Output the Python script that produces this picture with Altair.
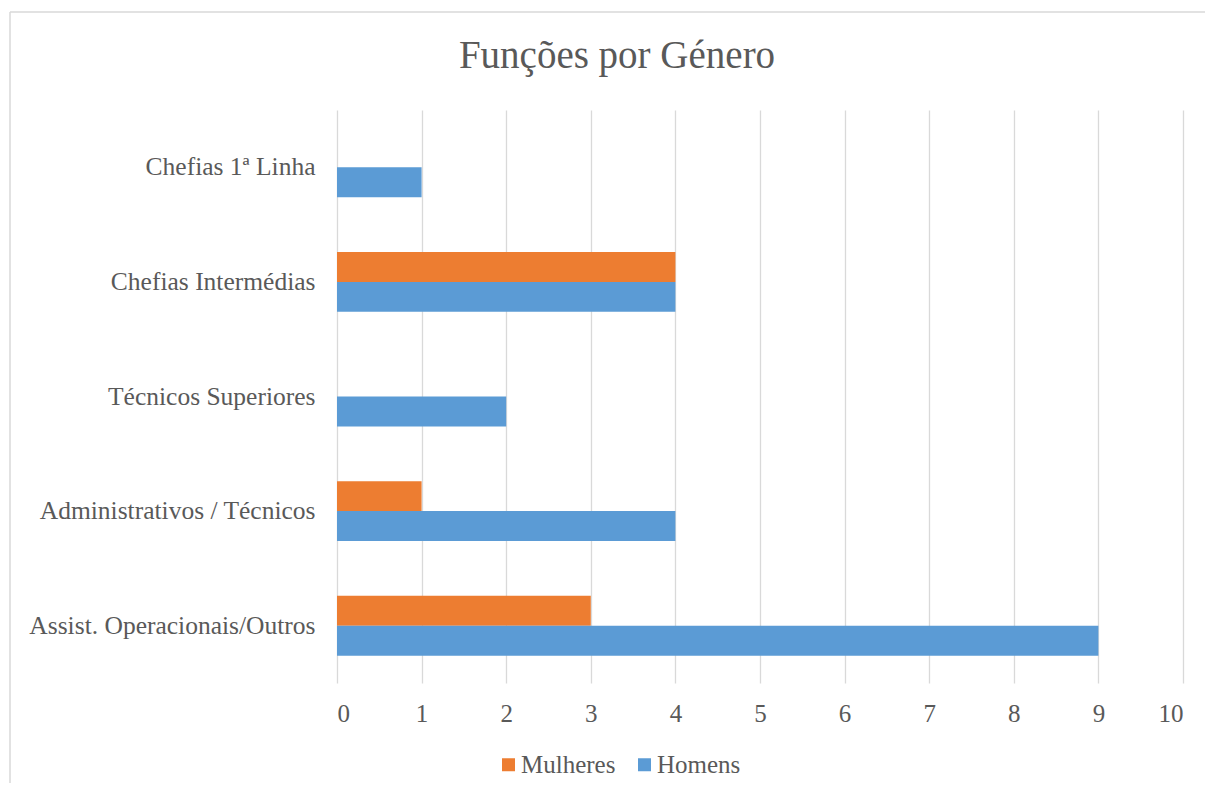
import altair as alt
import pandas as pd

categories = [
    "Chefias 1ª Linha",
    "Chefias Intermédias",
    "Técnicos Superiores",
    "Administrativos / Técnicos",
    "Assist. Operacionais/Outros",
]
series = ["Mulheres", "Homens"]
mulheres = [0, 4, 0, 1, 3]
homens = [1, 4, 2, 4, 9]
x_ticks = [0, 1, 2, 3, 4, 5, 6, 7, 8, 9, 10]
colors = ["#ED7D31", "#5B9BD5"]

rows = []
for c, m, h in zip(categories, mulheres, homens):
    rows.append({"Função": c, "Género": "Mulheres", "Valor": m})
    rows.append({"Função": c, "Género": "Homens", "Valor": h})
df = pd.DataFrame(rows)

FONT = "Liberation Serif"
TXT = "#595959"

bars = alt.Chart(df).mark_bar().encode(
    x=alt.X(
        "Valor:Q",
        scale=alt.Scale(domain=[0, 10], nice=False),
        axis=alt.Axis(
            values=x_ticks, title=None, ticks=False, domain=False,
            grid=True, gridColor="#d9d9d9", gridWidth=1.3,
            labelFont=FONT, labelFontSize=25, labelColor=TXT, labelPadding=18,
        ),
    ),
    y=alt.Y(
        "Função:N",
        sort=categories,
        scale=alt.Scale(paddingInner=0.477, paddingOuter=0.2385),
        axis=alt.Axis(
            title=None, ticks=False, domain=False, grid=False,
            labelFont=FONT, labelFontSize=25.5, labelColor=TXT, labelPadding=22,
            labelLimit=400,
        ),
    ),
    yOffset=alt.YOffset("Género:N", sort=series,
                        scale=alt.Scale(paddingInner=0, paddingOuter=0)),
    color=alt.Color(
        "Género:N",
        sort=series,
        scale=alt.Scale(domain=series, range=colors),
        legend=alt.Legend(
            title=None, orient="none", direction="horizontal",
            legendX=159, legendY=642,
            symbolType="square", symbolSize=169, symbolStrokeWidth=0,
            labelFont=FONT, labelFontSize=25, labelColor=TXT,
            labelOffset=0, columnPadding=16,
        ),
    ),
)

one = pd.DataFrame({"a": [0]})
top_line = alt.Chart(one).mark_rule(color="#d9d9d9", strokeWidth=1.5).encode(
    x=alt.value(-327), x2=alt.value(868), y=alt.value(-98)
)
left_line = alt.Chart(one).mark_rule(color="#d9d9d9", strokeWidth=1.5).encode(
    x=alt.value(-327), y=alt.value(-98), y2=alt.value(673)
)

chart = alt.layer(top_line, left_line, bars).properties(
    width=846,
    height=573,
    autosize=alt.AutoSizeParams(type="none"),
    padding={"left": 329, "top": 102, "right": 22, "bottom": 100},
    title=alt.TitleParams(
        "Funções por Género",
        font=FONT, fontSize=39, fontWeight="normal", color=TXT,
        anchor="middle", dx=-143, offset=-65,
    ),
).configure_view(stroke=None)

chart.save("out.html", embed_options={"renderer": "svg", "actions": False})
